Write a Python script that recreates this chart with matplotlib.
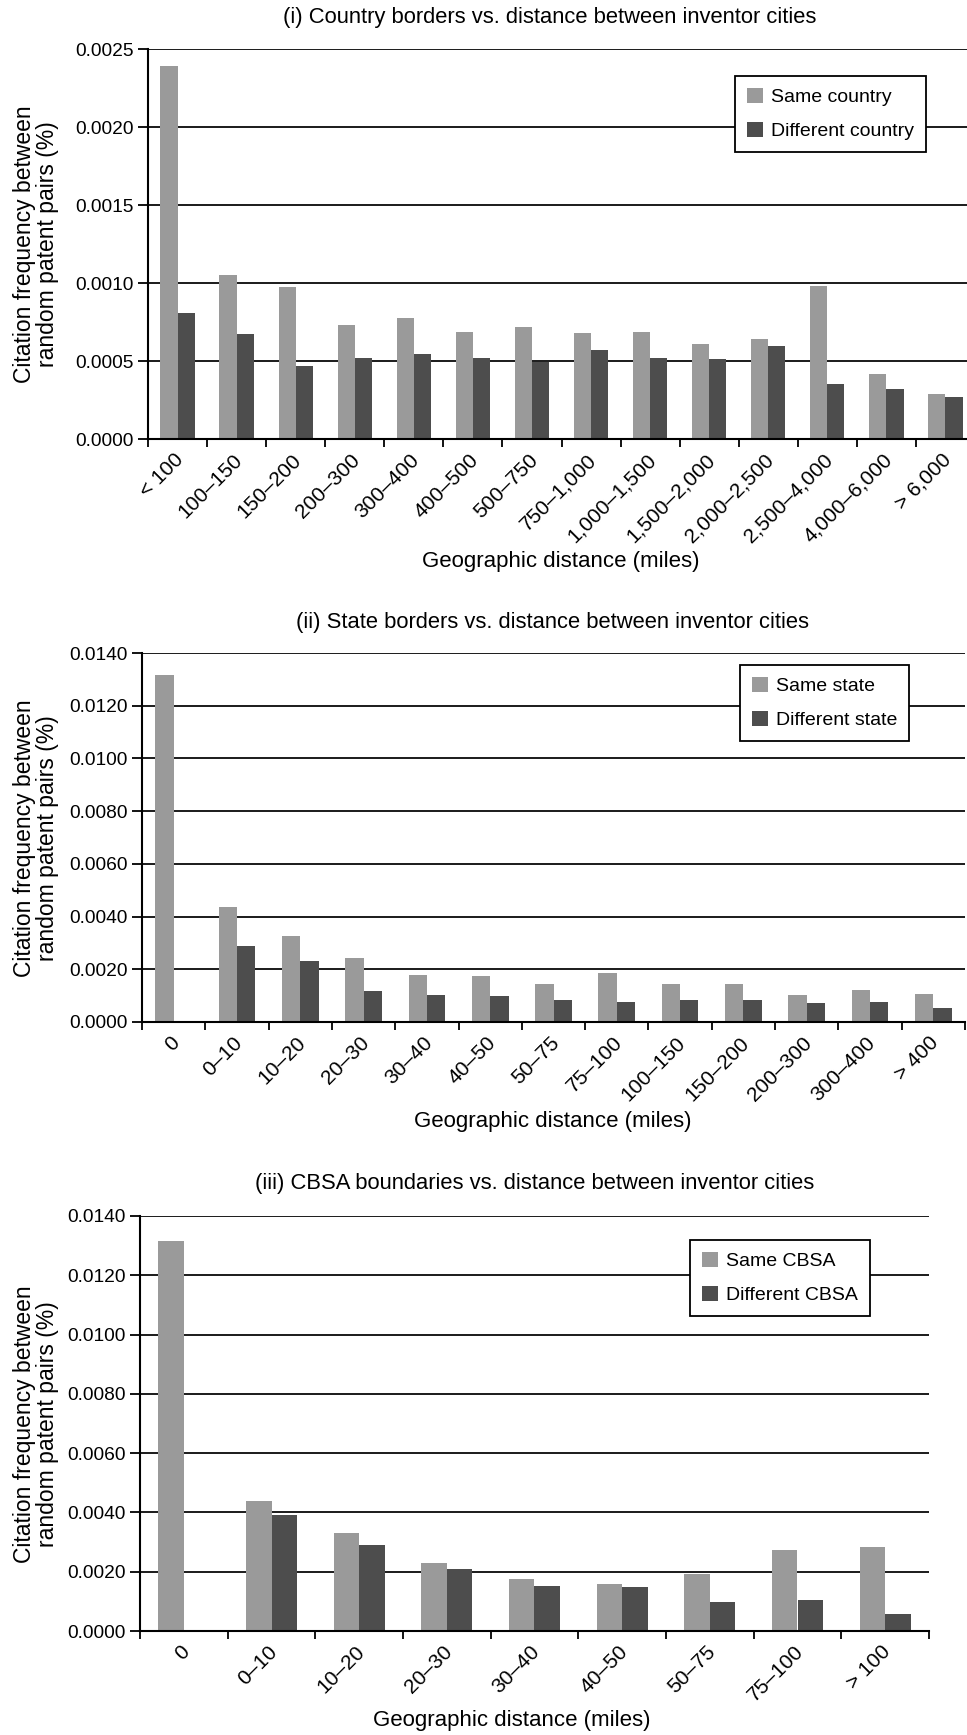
import matplotlib
matplotlib.use("Agg")
import matplotlib.pyplot as plt
from matplotlib.patches import Patch
from matplotlib.ticker import FixedLocator, FormatStrFormatter
import numpy as np

plt.rcParams['font.family'] = ['Liberation Sans', 'DejaVu Sans']

# ---------------- data ----------------
cats1 = ["< 100", "100–150", "150–200", "200–300", "300–400", "400–500", "500–750",
         "750–1,000", "1,000–1,500", "1,500–2,000", "2,000–2,500", "2,500–4,000",
         "4,000–6,000", "> 6,000"]
same_country = [0.00239, 0.00105, 0.000976, 0.00073, 0.000773, 0.000683, 0.000716,
                0.000681, 0.000685, 0.00061, 0.00064, 0.000981, 0.000418, 0.000291]
diff_country = [0.000808, 0.000673, 0.00047, 0.00052, 0.000548, 0.000522, 0.000494,
                0.000569, 0.00052, 0.000515, 0.000593, 0.00035, 0.000321, 0.000272]

cats2 = ["0", "0–10", "10–20", "20–30", "30–40", "40–50", "50–75", "75–100",
         "100–150", "150–200", "200–300", "300–400", "> 400"]
same_state = [0.01315, 0.00435, 0.00328, 0.00243, 0.00180, 0.00176, 0.00146, 0.00186,
              0.00146, 0.00144, 0.00101, 0.00120, 0.00108]
diff_state = [0.0, 0.00290, 0.00230, 0.00116, 0.00102, 0.00099, 0.00084, 0.00077,
              0.00084, 0.00084, 0.00073, 0.00075, 0.00054]

cats3 = ["0", "0–10", "10–20", "20–30", "30–40", "40–50", "50–75", "75–100", "> 100"]
same_cbsa = [0.01315, 0.00438, 0.00331, 0.00231, 0.00174, 0.00158, 0.00192, 0.00272, 0.00284]
diff_cbsa = [0.0, 0.00391, 0.00289, 0.00209, 0.00151, 0.00148, 0.00099, 0.00104, 0.00056]

titles = ["(i) Country borders vs. distance between inventor cities",
          "(ii) State borders vs. distance between inventor cities",
          "(iii) CBSA boundaries vs. distance between inventor cities"]
legend_labels = [("Same country", "Different country"),
                 ("Same state", "Different state"),
                 ("Same CBSA", "Different CBSA")]
yticks1 = [0.0, 0.0005, 0.0010, 0.0015, 0.0020, 0.0025]
yticks23 = [0.0, 0.002, 0.004, 0.006, 0.008, 0.010, 0.012, 0.014]

LIGHT = "#9a9a9a"
DARK = "#4d4d4d"
FS_TITLE = 15.8
FS_XLAB = 16
FS_YLAB = 16.5
FS_YTICK = 13.8
FS_XTICK = 15
FS_LEG = 14

W, H = 967, 1735
fig = plt.figure(figsize=(W / 100, H / 100), dpi=100)


def px_rect(left, right, top, bottom):
    return [left / W, 1 - bottom / H, (right - left) / W, (bottom - top) / H]


panels = [
    dict(rect=px_rect(148, 975, 49, 439), cats=cats1, s=same_country, d=diff_country,
         yticks=yticks1, title_xy=(550, 18), xlab_xy=(561, 561), ylab_y=244,
         leg=(735, 76), labels=legend_labels[0], title=titles[0]),
    dict(rect=px_rect(142, 965, 653, 1022), cats=cats2, s=same_state, d=diff_state,
         yticks=yticks23, title_xy=(553, 622), xlab_xy=(553, 1121), ylab_y=838,
         leg=(740, 665), labels=legend_labels[1], title=titles[1]),
    dict(rect=px_rect(140, 929, 1216, 1631), cats=cats3, s=same_cbsa, d=diff_cbsa,
         yticks=yticks23, title_xy=(535, 1184), xlab_xy=(512, 1720), ylab_y=1424,
         leg=(690, 1240), labels=legend_labels[2], title=titles[2]),
]

bw = 0.29
for p in panels:
    ax = fig.add_axes(p["rect"])
    n = len(p["cats"])
    x = np.arange(n)
    ax.bar(x - bw / 2, p["s"], width=bw, color=LIGHT, zorder=3)
    ax.bar(x + bw / 2, p["d"], width=bw, color=DARK, zorder=3)
    ax.set_xlim(-0.5, n - 0.5)
    ax.set_ylim(p["yticks"][0], p["yticks"][-1])
    ax.set_yticks(p["yticks"])
    ax.yaxis.set_major_formatter(FormatStrFormatter("%.4f"))
    ax.grid(axis="y", color="#1a1a1a", linewidth=1.4, zorder=1)
    ax.set_axisbelow(True)
    for s in ["top", "right"]:
        ax.spines[s].set_visible(False)
    for s in ["left", "bottom"]:
        ax.spines[s].set_linewidth(1.5)
        ax.spines[s].set_color("black")
        ax.spines[s].set_zorder(4)
    ax.xaxis.set_major_locator(FixedLocator(np.arange(n + 1) - 0.5))
    ax.xaxis.set_minor_locator(FixedLocator(x))
    ax.set_xticklabels([], minor=False)
    ax.set_xticklabels(p["cats"], minor=True, rotation=45, ha="right",
                       rotation_mode="anchor", fontsize=FS_XTICK)
    ax.tick_params(axis="x", which="major", length=6, width=1.3, direction="out")
    ax.tick_params(axis="x", which="minor", length=0, pad=8)
    ax.tick_params(axis="y", length=7, width=1.3, direction="out", labelsize=FS_YTICK, pad=3)
    for lab in ax.get_xticklabels(minor=True):
        lab.set_transform(lab.get_transform() +
                          matplotlib.transforms.ScaledTranslation(-4 / 100, 0, fig.dpi_scale_trans))

    fig.text(p["title_xy"][0] / W, 1 - p["title_xy"][1] / H, p["title"],
             ha="center", va="center", fontsize=FS_TITLE)
    fig.text(p["xlab_xy"][0] / W, 1 - p["xlab_xy"][1] / H, "Geographic distance (miles)",
             ha="center", va="center", fontsize=FS_XLAB)
    fig.text(36 / W, 1 - p["ylab_y"] / H, "Citation frequency between\nrandom patent pairs (%)",
             ha="center", va="center", rotation=90, fontsize=FS_YLAB, linespacing=1.0)

    handles = [Patch(facecolor=LIGHT), Patch(facecolor=DARK)]
    leg = ax.legend(handles, p["labels"], loc="upper left",
                    bbox_to_anchor=(p["leg"][0] / W, 1 - p["leg"][1] / H),
                    bbox_transform=fig.transFigure, fontsize=FS_LEG, frameon=True,
                    fancybox=False, edgecolor="black", framealpha=1,
                    handlelength=0.82, handleheight=0.82, handletextpad=0.45,
                    labelspacing=0.8, borderpad=0.6, borderaxespad=0)
    leg.get_frame().set_linewidth(1.3)
    leg.set_zorder(10)

fig.savefig("out.png", dpi=100)
